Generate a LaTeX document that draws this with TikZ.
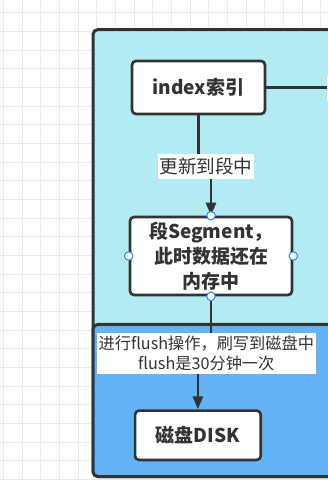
\documentclass[tikz,border=0pt]{standalone}
\usepackage{fontspec}
\setmainfont{Noto Sans CJK SC}
\usetikzlibrary{arrows.meta}
\definecolor{ink}{RGB}{51,51,51}
\definecolor{gridc}{RGB}{234,234,234}
\definecolor{cyanbg}{RGB}{178,235,242}
\definecolor{bluebg}{RGB}{99,180,246}
\definecolor{handle}{RGB}{40,130,255}
\tikzset{
  gridline/.style={draw=gridc,line width=1pt},
  container/.style={draw=ink,line width=3pt,rounded corners=5pt},
  box/.style={draw=ink,fill=white,line width=2.6pt,rounded corners=4pt,inner sep=0pt,
    text=ink,font=\bfseries\fontsize{19}{25}\selectfont,align=center},
  lbl/.style={fill=white,inner sep=0pt,text=ink,align=center},
  conn/.style={draw=ink,line width=2.6pt},
  arr/.style={conn,-{Triangle[width=10pt,length=13pt]}},
  hdl/.style={circle,draw=handle,fill=white,line width=1pt,inner sep=0pt,minimum size=8.5pt}
}
\begin{document}
\begin{tikzpicture}[x=1pt,y=-1pt]
\useasboundingbox (0,0) rectangle (328,480);
\fill[white] (0,0) rectangle (328,480);
\foreach \i in {0,...,17} {
  \draw[gridline] (3.33+18.67*\i,0) -- (3.33+18.67*\i,480);
}
\foreach \j in {0,...,26} {
  \draw[gridline] (0,12.67+18.67*\j) -- (328,12.67+18.67*\j);
}
\begin{scope}
\clip (0,0) rectangle (328,480);
\path[container,fill=cyanbg] (93,29.5) rectangle (345,476.5);
\path[container,fill=bluebg] (93,324.3) rectangle (345,476.5);
\node[box,minimum width=133pt,minimum height=53pt] (index) at (198.5,87.5) {index索引};
\node[box,minimum width=162pt,minimum height=78pt] (seg) at (211,256) {段Segment，\\此时数据还在\\内存中};
\node[box,minimum width=125.7pt,minimum height=49.3pt] (disk) at (197.9,435.3) {磁盘DISK};
\coordinate (redge) at (335,87.5);
\coordinate (j1) at (205,166.5);
\coordinate (j2) at (205,353.3);
\draw[conn] (index.east) -- (redge);
\fill[white] (326.7,76) rectangle (335,101);
\draw[arr] (index.south) |- (j1) -| (seg.north);
\draw[arr] (seg.south) |- (j2) -| (disk.north);
\node[lbl,minimum width=96pt,minimum height=25pt,font=\fontsize{18.6}{22}\selectfont] (l1) at (206,166.5) {更新到段中};
\node[lbl,minimum width=218.7pt,minimum height=41.3pt,font=\fontsize{16.2}{20.5}\selectfont] (l2) at (206.3,353.3) {进行flush操作，刷写到磁盘中\\flush是30分钟一次};
\node[hdl] (h1) at (seg.north) {};
\node[hdl] (h2) at (seg.west) {};
\node[hdl] (h3) at (seg.east) {};
\node[hdl] (h4) at (seg.south) {};
\end{scope}
\end{tikzpicture}
\end{document}
